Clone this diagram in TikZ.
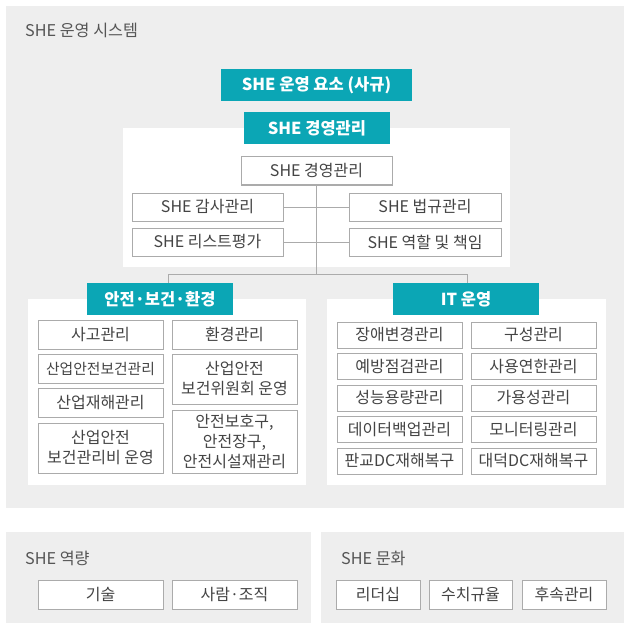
\documentclass[tikz,border=0pt]{standalone}
\usepackage{fontspec}
\setmainfont{Noto Sans CJK KR}
\definecolor{bgGray}{HTML}{EEEEEE}
\definecolor{tealC}{HTML}{0BA6B5}
\definecolor{lineGray}{HTML}{ABABAB}
\definecolor{txtC}{HTML}{444444}
\definecolor{titleC}{HTML}{555555}
\tikzset{
  panel/.style={fill=bgGray, draw=none},
  whitepanel/.style={fill=white, draw=none},
  tealbox/.style={fill=tealC, draw=none, text=white, inner sep=0pt, minimum height=32pt,
    font=\fontsize{16.5}{18}\selectfont\bfseries},
  itembox/.style={fill=white, draw=lineGray, line width=1pt, text=txtC, inner sep=0pt,
    align=center, font=\fontsize{16}{20}\selectfont},
  paneltitle/.style={anchor=west, text=titleC, inner sep=0pt, font=\fontsize{16.2}{18}\selectfont},
  conn/.style={draw=lineGray, line width=1pt},
}
\begin{document}
\begin{tikzpicture}[x=1pt,y=-1pt]
\useasboundingbox (0,0) rectangle (624,623);
% outer system panel
\path[panel] (6,6) rectangle (624,508);
\node[paneltitle] (systitle) at (25,30) {SHE 운영 시스템};
\node[tealbox, minimum width=191pt] (rules) at (316.5,85) {SHE 운영 요소 (사규)};
% management area
\path[whitepanel] (123,128) rectangle (510,267);
\node[itembox, minimum width=151pt, minimum height=28pt] (mgmt) at (316.5,171) {SHE 경영관리};
\node[itembox, minimum width=151pt, minimum height=28pt] (audit) at (207.5,207) {SHE 감사관리};
\node[itembox, minimum width=151pt, minimum height=28pt] (risk) at (207.5,242) {SHE 리스트평가};
\node[itembox, minimum width=152pt, minimum height=28pt] (law) at (425,207) {SHE 법규관리};
\node[itembox, minimum width=152pt, minimum height=28pt] (role) at (425,242) {SHE 역할 및 책임};
\node[tealbox, minimum width=146pt] (mgmtTitle) at (317,128) {SHE 경영관리};
% lower panels
\path[whitepanel] (28,299) rectangle (306,485);
\path[whitepanel] (327,299) rectangle (606,485);
\node[tealbox, minimum width=146pt] (she) at (160,299) {안전·보건·환경};
\node[tealbox, minimum width=146pt] (it) at (466,299) {IT 운영};
\coordinate (jc) at (316.5,274);
\coordinate (jl) at (168,274);
\coordinate (jr) at (467,274);
\draw[conn] (mgmt.south) -- (jc);
\draw[conn] (jl) -- (jr);
\draw[conn] (jl) -- (jl |- she.north);
\draw[conn] (jr) -- (jr |- it.north);
\draw[conn] (audit.east) -- (law.west);
\draw[conn] (risk.east) -- (role.west);
% 안전보건환경 boxes
\node[itembox, minimum width=125pt, minimum height=29pt] (s1) at (100.5,334.5) {사고관리};
\node[itembox, minimum width=125pt, minimum height=29pt] (s2) at (100.5,368.5) {\fontsize{14.8}{20}\selectfont 산업안전보건관리};
\node[itembox, minimum width=125pt, minimum height=29pt] (s3) at (100.5,402.5) {산업재해관리};
\node[itembox, minimum width=125pt, minimum height=50pt] (s4) at (100.5,448) {산업안전\\보건관리비 운영};
\node[itembox, minimum width=125pt, minimum height=29pt] (s5) at (234.5,334.5) {환경관리};
\node[itembox, minimum width=125pt, minimum height=50pt] (s6) at (234.5,379) {산업안전\\보건위원회 운영};
\node[itembox, minimum width=125pt, minimum height=63pt] (s7) at (234.5,441.5) {안전보호구,\\안전장구,\\안전시설재관리};
% IT boxes
\node[itembox, minimum width=125pt, minimum height=26pt] (i1) at (399.5,335) {장애변경관리};
\node[itembox, minimum width=125pt, minimum height=26pt] (i2) at (399.5,366.5) {예방점검관리};
\node[itembox, minimum width=125pt, minimum height=26pt] (i3) at (399.5,398) {성능용량관리};
\node[itembox, minimum width=125pt, minimum height=26pt] (i4) at (399.5,429.5) {데이터백업관리};
\node[itembox, minimum width=125pt, minimum height=26pt] (i5) at (399.5,461) {판교DC재해복구};
\node[itembox, minimum width=125pt, minimum height=26pt] (i6) at (533.5,335) {구성관리};
\node[itembox, minimum width=125pt, minimum height=26pt] (i7) at (533.5,366.5) {사용연한관리};
\node[itembox, minimum width=125pt, minimum height=26pt] (i8) at (533.5,398) {가용성관리};
\node[itembox, minimum width=125pt, minimum height=26pt] (i9) at (533.5,429.5) {모니터링관리};
\node[itembox, minimum width=125pt, minimum height=26pt] (i10) at (533.5,461) {대덕DC재해복구};
% bottom panels
\path[panel] (6,532) rectangle (311,623);
\path[panel] (321,532) rectangle (624,623);
\node[paneltitle] (capTitle) at (25,558) {SHE 역량};
\node[paneltitle] (culTitle) at (341,558) {SHE 문화};
\node[itembox, minimum width=125pt, minimum height=29pt] (c1) at (100.5,594.5) {기술};
\node[itembox, minimum width=125pt, minimum height=29pt] (c2) at (234.5,594.5) {사람·조직};
\node[itembox, minimum width=84pt, minimum height=29pt] (u1) at (378,594.5) {리더십};
\node[itembox, minimum width=83pt, minimum height=29pt] (u2) at (470.5,594.5) {수치규율};
\node[itembox, minimum width=84pt, minimum height=29pt] (u3) at (564,594.5) {후속관리};
\end{tikzpicture}
\end{document}
